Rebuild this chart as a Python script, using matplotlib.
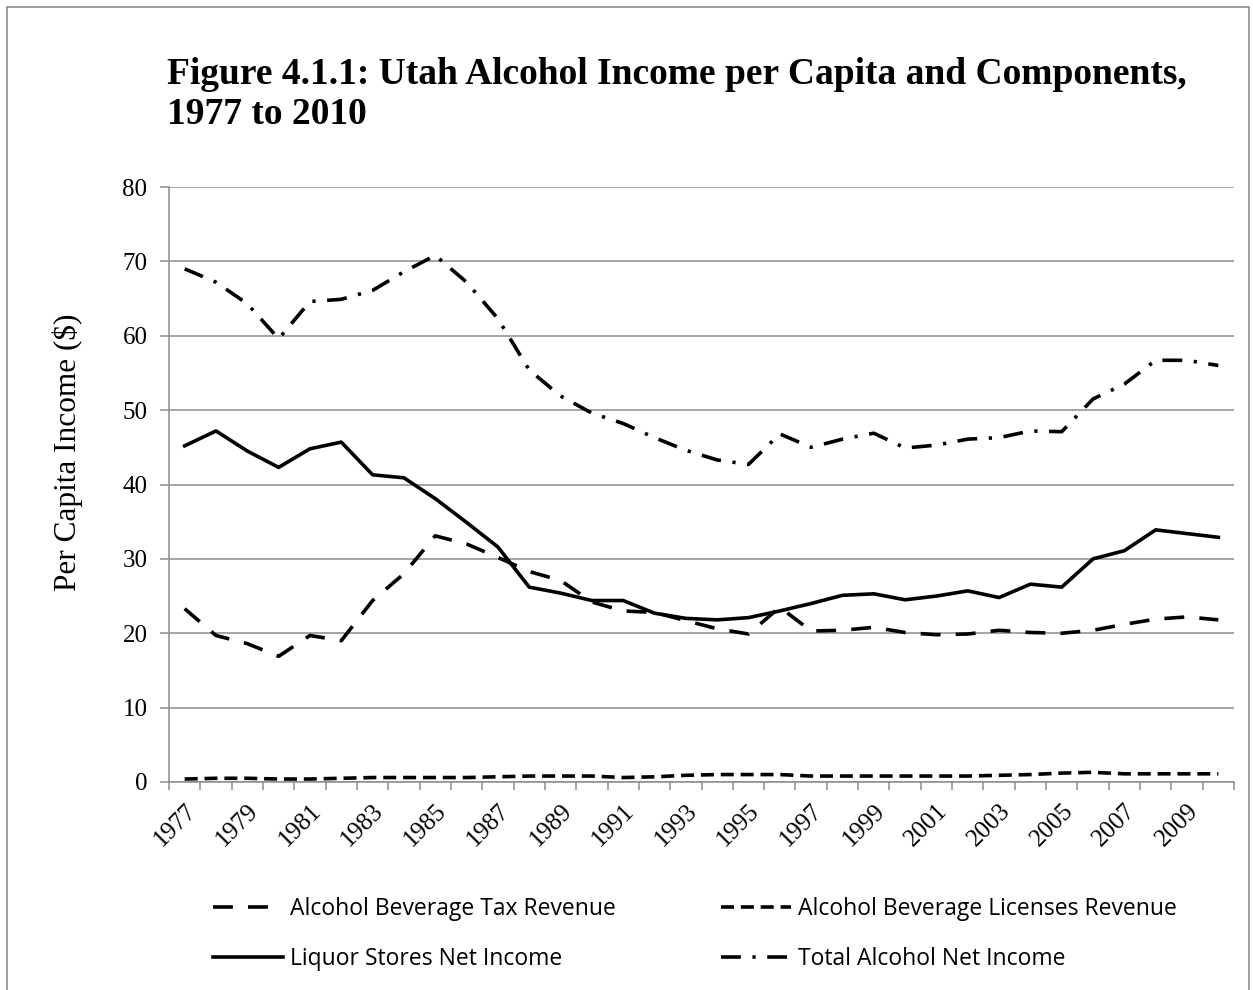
import matplotlib
matplotlib.use("Agg")
import matplotlib.pyplot as plt
from matplotlib.patches import Rectangle

years = list(range(1977, 2011))
tax_revenue = [23.3, 19.7, 18.6, 16.9, 19.7, 19.0, 24.4, 28.0, 33.1, 32.0,
               30.2, 28.3, 27.1, 24.2, 23.0, 22.8, 21.7, 20.6, 19.9, 23.5,
               20.3, 20.4, 20.8, 20.1, 19.8, 19.9, 20.4, 20.1, 20.0, 20.4,
               21.2, 21.9, 22.2, 21.8]
licenses_revenue = [0.4, 0.5, 0.5, 0.4, 0.4, 0.5, 0.6, 0.6, 0.6, 0.6,
                    0.7, 0.8, 0.8, 0.8, 0.6, 0.7, 0.9, 1.0, 1.0, 1.0,
                    0.8, 0.8, 0.8, 0.8, 0.8, 0.8, 0.9, 1.0, 1.2, 1.3,
                    1.1, 1.1, 1.1, 1.1]
liquor_stores = [45.2, 47.2, 44.5, 42.3, 44.8, 45.7, 41.3, 40.9, 38.1, 34.9,
                 31.6, 26.2, 25.4, 24.4, 24.4, 22.7, 22.0, 21.8, 22.1, 23.0,
                 24.0, 25.1, 25.3, 24.5, 25.0, 25.7, 24.8, 26.6, 26.2, 30.0,
                 31.1, 33.9, 33.4, 32.9]
total_income = [69.0, 67.2, 64.3, 59.6, 64.6, 64.9, 66.1, 68.6, 70.8, 67.2,
                62.3, 55.4, 51.9, 49.6, 48.2, 46.3, 44.6, 43.3, 42.7, 46.8,
                45.0, 46.1, 46.9, 44.9, 45.3, 46.1, 46.3, 47.2, 47.1, 51.5,
                53.5, 56.7, 56.7, 56.0]
series_names = ["Alcohol Beverage Tax Revenue", "Alcohol Beverage Licenses Revenue",
                "Liquor Stores Net Income", "Total Alcohol Net Income"]
title_text = "Figure 4.1.1: Utah Alcohol Income per Capita and Components,\n1977 to 2010"
ylabel_text = "Per Capita Income ($)"

W, H = 1253, 990
fig = plt.figure(figsize=(W / 100, H / 100), dpi=100)

# outer border
fig.patches.append(Rectangle((7 / W, -0.01), (1249 - 7) / W, 1.0 - 7 / H + 0.01,
                             transform=fig.transFigure, fill=False,
                             edgecolor="#8c8c8c", linewidth=1.2))

left, right, top, bottom = 169, 1234, 187, 782
ax = fig.add_axes([left / W, 1 - bottom / H, (right - left) / W, (bottom - top) / H])

x = list(range(len(years)))
lw = 2.6
styles = [
    dict(dashes=(5.5, 4.2)),
    dict(dashes=(3.6, 1.9)),
    dict(linestyle="-"),
    dict(dashes=(5.5, 3.2, 0.9, 3.2)),
]
data = [tax_revenue, licenses_revenue, liquor_stores, total_income]
handles = []
for name, vals, st in zip(series_names, data, styles):
    ln, = ax.plot(x, vals, color="black", linewidth=lw, solid_joinstyle="round",
                  dash_capstyle="butt", label=name, **st)
    handles.append(ln)

ax.set_xlim(-0.5, len(years) - 0.5)
ax.set_ylim(0, 80)
ax.set_yticks(range(0, 81, 10))
ax.grid(axis="y", color="#8c8c8c", linewidth=1.1)
ax.set_axisbelow(True)

serif = "Liberation Serif"
ax.set_yticklabels([str(v) for v in range(0, 81, 10)], fontfamily=serif, fontsize=18)
ax.tick_params(axis="y", length=6.5, width=1.1, color="#8c8c8c", pad=9)

ax.set_xticks(x[::2])
ax.set_xticklabels([str(y) for y in years[::2]], rotation=45, ha="right",
                   rotation_mode="anchor", fontfamily=serif, fontsize=18)
ax.tick_params(axis="x", which="major", length=0, pad=13)
ax.set_xticks([i - 0.5 for i in range(len(years) + 1)], minor=True)
ax.tick_params(axis="x", which="minor", length=6, width=1.1, color="#8c8c8c")

for s in ["top", "right"]:
    ax.spines[s].set_visible(False)
for s in ["left", "bottom"]:
    ax.spines[s].set_color("#8c8c8c")
    ax.spines[s].set_linewidth(1.1)

fig.text(68 / W, 1 - 452 / H, ylabel_text, rotation=90, fontfamily=serif,
         fontsize=22.5, ha="center", va="center")

fig.text(167 / W, 1 - 57 / H, title_text, fontfamily=serif, fontweight="bold",
         fontsize=27, ha="left", va="top", linespacing=1.18)

order = [0, 2, 1, 3]
leg = fig.legend([handles[i] for i in order], [series_names[i] for i in order],
                 loc="upper left", bbox_to_anchor=(213 / W, 1 - 897 / H), ncol=2,
                 frameon=False, prop={"family": "Open Sans", "size": 16.5},
                 handlelength=3.05, handletextpad=0.3, columnspacing=4.6,
                 labelspacing=1.15, borderpad=0, borderaxespad=0)

fig.savefig("out.png", dpi=100)
